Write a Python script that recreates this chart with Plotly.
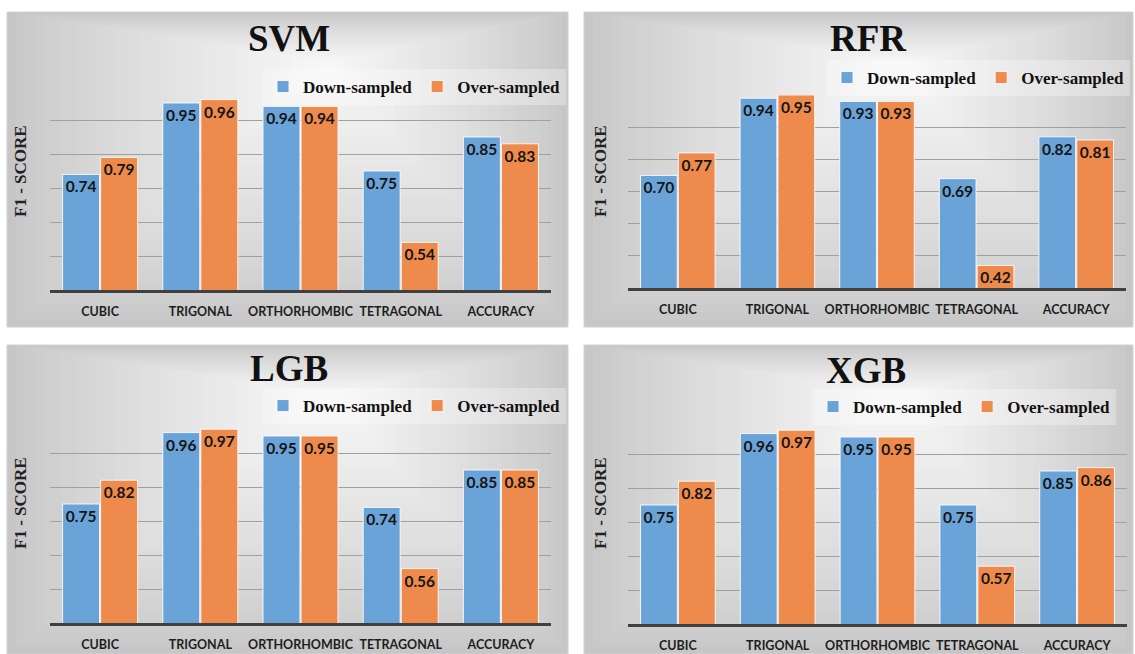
import plotly.graph_objects as go

# ---------------- data ----------------
categories = ["CUBIC", "TRIGONAL", "ORTHORHOMBIC", "TETRAGONAL", "ACCURACY"]
series_names = ["Down-sampled", "Over-sampled"]
models = ["SVM", "RFR", "LGB", "XGB"]

svm_down = [0.74, 0.95, 0.94, 0.75, 0.85]
svm_over = [0.79, 0.96, 0.94, 0.54, 0.83]
rfr_down = [0.70, 0.94, 0.93, 0.69, 0.82]
rfr_over = [0.77, 0.95, 0.93, 0.42, 0.81]
lgb_down = [0.75, 0.96, 0.95, 0.74, 0.85]
lgb_over = [0.82, 0.97, 0.95, 0.56, 0.85]
xgb_down = [0.75, 0.96, 0.95, 0.75, 0.85]
xgb_over = [0.82, 0.97, 0.95, 0.57, 0.86]

y_ranges = [[0.40, 1.00], [0.35, 0.95], [0.40, 1.00], [0.40, 1.00]]
y_title = "F1 - SCORE"

down_values = [svm_down, rfr_down, lgb_down, xgb_down]
over_values = [svm_over, rfr_over, lgb_over, xgb_over]

# ---------------- layout helpers (pixel geometry) ----------------
W, H = 1135, 654
def px(x):
    return x / W
def py(y):
    return 1 - y / H

panels = [  # (left, top, right, bottom) of grey panel
    (7, 12, 568, 327),
    (584, 12, 1133, 327),
    (7, 345, 568, 654),
    (584, 345, 1133, 654),
]
plot_areas = [  # x0, x1, ytop, ybottom
    (50, 551, 86, 290),
    (628, 1126, 95, 288),
    (50, 551, 419, 623),
    (628, 1127, 420, 624),
]
title_pos = [(289, 38), (868, 38), (289, 369), (866, 370)]
ytitle_pos = [(20, 171), (600, 171), (20, 503), (600, 503)]
legend_pos = [(566, 87), (1130, 78), (566, 406), (1116, 407)]

BLUE = "#6aa3d8"
ORANGE = "#ee8b4c"
colors = [BLUE, ORANGE]

fig = go.Figure()
shapes = []
annotations = []

# gradient backgrounds (nested rectangles)
N = 36
outer = (198, 198, 198)
inner = (248, 248, 248)
for (L, T, R, B) in panels:
    cx = L + 0.57 * (R - L)
    cy = T + 0.16 * (B - T)
    for i in range(N):
        t = i / N
        f = t ** 0.8
        c = tuple(int(round(outer[k] + (inner[k] - outer[k]) * f)) for k in range(3))
        x0 = L + (cx - L) * t
        x1 = R - (R - cx) * t
        y0 = T + (cy - T) * t
        y1 = B - (B - cy) * t
        shapes.append(dict(type="rect", xref="paper", yref="paper",
                           x0=px(x0), x1=px(x1), y0=py(y1), y1=py(y0),
                           fillcolor="rgb(%d,%d,%d)" % c, line=dict(width=0),
                           layer="below"))
    shapes.append(dict(type="rect", xref="paper", yref="paper",
                       x0=px(L), x1=px(R), y0=py(B), y1=py(T),
                       fillcolor="rgba(0,0,0,0)", line=dict(color="#d2d2d2", width=1),
                       layer="below"))

layout_axes = {}
for i, model in enumerate(models):
    n = "" if i == 0 else str(i + 1)
    legend_name = "legend" if i == 0 else "legend%d" % (i + 1)
    for s, vals in enumerate([down_values[i], over_values[i]]):
        fig.add_trace(go.Bar(
            x=categories, y=vals, name=series_names[s],
            marker=dict(color=colors[s], line=dict(color="rgba(255,255,255,0.85)", width=1)),
            text=vals, texttemplate="%{y:.2f}", textposition="inside",
            insidetextanchor="end", textangle=0,
            textfont=dict(family="Lato", size=15.5, color="#151515", weight="bold"),
            xaxis="x" + n, yaxis="y" + n, legend=legend_name,
            hoverinfo="x+y+name",
        ))
    x0, x1, yt, yb = plot_areas[i]
    layout_axes["xaxis" + n] = dict(
        domain=[px(x0), px(x1)], anchor="y" + n, type="category",
        showline=True, linecolor="#404040", linewidth=2.5,
        ticks="outside", ticklen=8, tickcolor="rgba(0,0,0,0)",
        tickangle=0, automargin=False,
        tickfont=dict(family="Lato", size=12.5, color="#1e1e1e", weight="bold"),
        showgrid=False, fixedrange=True,
    )
    layout_axes["yaxis" + n] = dict(
        domain=[py(yb), py(yt)], anchor="x" + n, range=y_ranges[i],
        tick0=y_ranges[i][0], dtick=0.1, showticklabels=False,
        showgrid=True, gridcolor="#a0a0a0", gridwidth=1, automargin=False,
        zeroline=False, showline=False, fixedrange=True,
    )
    lx, ly = legend_pos[i]
    layout_axes[legend_name] = dict(
        orientation="h", x=px(lx), y=py(ly), xanchor="right", yanchor="middle",
        bgcolor="rgba(255,255,255,0.3)", borderwidth=0,
        font=dict(family="Liberation Serif", size=17, color="#111111", weight="bold"),
        itemclick=False, itemdoubleclick=False, tracegroupgap=0,
    )
    tx, ty = title_pos[i]
    annotations.append(dict(text="<b>%s</b>" % model, xref="paper", yref="paper",
                            x=px(tx), y=py(ty), xanchor="center", yanchor="middle",
                            showarrow=False,
                            font=dict(family="Liberation Serif", size=37, color="#111111")))
    ax, ay = ytitle_pos[i]
    annotations.append(dict(text="<b>%s</b>" % y_title, xref="paper", yref="paper",
                            x=px(ax), y=py(ay), xanchor="center", yanchor="middle",
                            textangle=-90, showarrow=False,
                            font=dict(family="Liberation Serif", size=17, color="#222222")))

fig.update_layout(
    width=W, height=H,
    margin=dict(l=0, r=0, t=0, b=0, autoexpand=False),
    paper_bgcolor="white", plot_bgcolor="rgba(0,0,0,0)",
    barmode="group", bargap=0.24, bargroupgap=0.03,
    shapes=shapes, annotations=annotations,
    uniformtext=dict(minsize=15, mode="show"),
    **layout_axes,
)

fig.write_html("out.html",
               config={"displayModeBar": False},
               post_script="document.body.style.margin='0px';document.body.style.overflow='hidden';")
